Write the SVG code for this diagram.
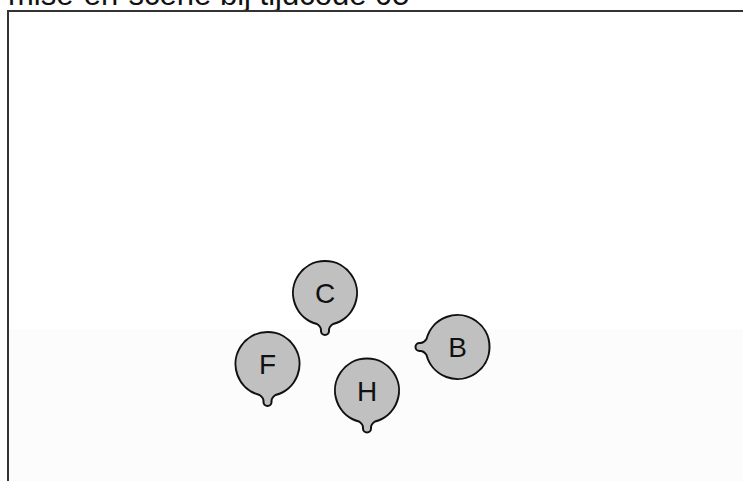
<svg xmlns="http://www.w3.org/2000/svg" width="743" height="481" viewBox="0 0 743 481">
<style>
.title{font-family:"Liberation Sans",Arial,sans-serif;font-size:31px;fill:#111}
.frame{fill:none;stroke:#333;stroke-width:2}
.body{fill:#c0c0c0;stroke:#111;stroke-width:2}
.lbl{font-family:"Liberation Sans",Arial,sans-serif;font-size:28px;fill:#111;text-anchor:middle}
</style>
<defs>
<path id="actor" d="M -8 30.98 A 32 32 0 1 1 8 30.98 C 5 33 4 34 4 37 L 4 38 A 4 4 0 0 1 -4 38 L -4 37 C -4 34 -5 33 -8 30.98 Z"/>
</defs>
<rect x="0" y="0" width="743" height="481" fill="#ffffff"/>
<rect x="9" y="329" width="734" height="152" fill="#fcfcfc"/>
<text class="title" x="8" y="5">mise-en-scene bij tijdcode 05</text>
<rect class="frame" x="8" y="11" width="800" height="500"/>
<g id="connectors"></g>
<g id="node-C"><use href="#actor" class="body" transform="translate(325,293)"/><text class="lbl" x="325" y="303">C</text></g>
<g id="node-F"><use href="#actor" class="body" transform="translate(267.5,364)"/><text class="lbl" x="267.5" y="374">F</text></g>
<g id="node-H"><use href="#actor" class="body" transform="translate(367,390.5)"/><text class="lbl" x="367" y="400.5">H</text></g>
<g id="node-B"><use href="#actor" class="body" transform="translate(457.5,347) rotate(90)"/><text class="lbl" x="457.5" y="357">B</text></g>
</svg>
